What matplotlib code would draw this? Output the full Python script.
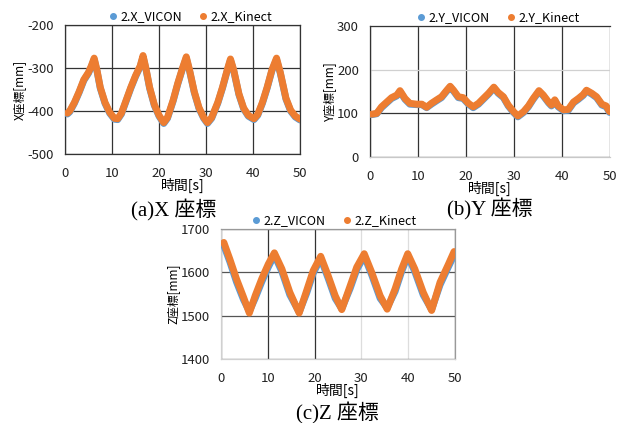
import matplotlib
matplotlib.use("Agg")
import matplotlib.pyplot as plt
from matplotlib.lines import Line2D

plt.rcParams['font.family'] = ['Noto Sans CJK JP', 'DejaVu Sans']
plt.rcParams['axes.unicode_minus'] = False

# X coordinate (a)
x_t = [0.5, 1, 2, 3, 4, 5, 5.6, 6.2, 6.8, 7.5, 8.5, 9.5, 10.5, 11.2, 12, 13, 14, 15, 16, 16.6,
       17.2, 18, 19, 20, 21, 21.8, 23, 24, 25, 25.8, 26.5, 27.5, 28.5, 29.5, 30.3, 31.2, 32.5,
       33.5, 34.5, 35.2, 35.9, 37, 38, 39, 40.2, 41, 42, 43, 44, 45, 45.8, 47, 48, 49, 50]
x_kinect = [-405, -400, -380, -355, -327, -310, -295, -277, -305, -345, -380, -403, -417, -418,
            -405, -375, -345, -318, -295, -271, -300, -345, -385, -410, -427, -415, -375, -335,
            -300, -274, -305, -355, -392, -415, -427, -415, -380, -345, -305, -279, -305, -360,
            -393, -410, -418, -408, -380, -345, -305, -277, -310, -370, -398, -412, -419]
x_vicon = [-407, -402, -382, -357, -329, -312, -297, -280, -307, -347, -382, -405, -419, -420,
           -407, -377, -347, -320, -297, -274, -302, -347, -387, -412, -429, -417, -377, -337,
           -302, -277, -307, -357, -394, -417, -429, -417, -382, -347, -307, -282, -307, -362,
           -395, -412, -420, -410, -382, -347, -307, -280, -312, -372, -400, -414, -421]

# Y coordinate (b)
y_t = [0.35, 1.4, 2.4, 3.5, 4.5, 5.6, 6.25, 7.3, 8.3, 9.7, 10.8, 11.8, 12.8, 13.9, 14.9, 16,
       16.7, 17.4, 18.4, 19.4, 20.5, 21.5, 22.6, 23.6, 24.7, 25.8, 26.7, 27.8, 28.8, 29.9, 30.8,
       32, 33, 34, 35.2, 36.1, 37.2, 37.8, 38.5, 39.2, 40.3, 41.3, 42.4, 43.4, 44.4, 45.1, 46.2,
       47.2, 48.3, 49.2, 49.9]
y_kinect = [98, 100, 115, 126, 136, 142, 152, 134, 123, 121, 121, 114, 123, 131, 138, 153, 162,
            153, 138, 136, 123, 115, 123, 134, 146, 160, 148, 138, 119, 104, 94, 104, 117, 134,
            152, 142, 126, 119, 131, 117, 108, 109, 126, 134, 143, 153, 146, 138, 121, 117, 104]
y_vicon = [97, 99, 113, 124, 134, 140, 150, 132, 121, 120, 120, 113, 121, 129, 136, 151, 160,
           151, 136, 134, 121, 113, 121, 132, 144, 158, 146, 136, 117, 102, 92, 102, 115, 132,
           150, 140, 124, 117, 129, 115, 106, 107, 124, 132, 141, 151, 144, 136, 119, 115, 102]

# Z coordinate (c)
z_t = [0.6, 1.9, 3.3, 4.8, 6.05, 7.3, 8.7, 10.1, 11.4, 13, 14.7, 16.7, 18.3, 19.7, 21.3, 22.9,
       24.4, 25.8, 27.6, 29, 30.6, 32.2, 34, 35.5, 37.2, 38.6, 39.9, 41.4, 43.2, 45, 46.8, 48.6,
       49.8]
z_kinect = [1669, 1630, 1585, 1543, 1506, 1546, 1585, 1619, 1645, 1608, 1554, 1506, 1558, 1604,
            1637, 1592, 1546, 1514, 1569, 1612, 1643, 1600, 1546, 1515, 1562, 1608, 1643, 1608,
            1554, 1512, 1577, 1619, 1648]
z_vicon = [1662, 1624, 1578, 1537, 1510, 1540, 1578, 1612, 1640, 1602, 1548, 1508, 1552, 1598,
           1632, 1586, 1540, 1516, 1563, 1606, 1638, 1594, 1540, 1518, 1556, 1602, 1638, 1602,
           1548, 1514, 1571, 1613, 1640]

BLUE = '#5B9BD5'
ORANGE = '#ED7D31'

fig = plt.figure(figsize=(6.27, 4.23), dpi=100)
ax_a = fig.add_axes([0.1037, 0.6359, 0.3748, 0.3050])
ax_b = fig.add_axes([0.5901, 0.6288, 0.3828, 0.3097])
ax_c = fig.add_axes([0.3525, 0.1513, 0.3732, 0.3073])

panels = [
    (ax_a, x_t, x_vicon, x_kinect, 'X', (-500, -200), [-500, -400, -300, -200], 0.53),
    (ax_b, y_t, y_vicon, y_kinect, 'Y', (0, 300), [0, 100, 200, 300], 0.53),
    (ax_c, z_t, z_vicon, z_kinect, 'Z', (1400, 1700), [1400, 1500, 1600, 1700], 0.48),
]

for ax, t, vic, kin, name, ylim, yticks, lx in panels:
    ax.plot(t, vic, color=BLUE, lw=5.0, solid_joinstyle='round', solid_capstyle='round', zorder=3)
    ax.plot(t, kin, color=ORANGE, lw=5.0, solid_joinstyle='round', solid_capstyle='round', zorder=4)
    ax.set_xlim(0, 50)
    ax.set_ylim(*ylim)
    ax.set_xticks([0, 10, 20, 30, 40, 50])
    ax.set_yticks(yticks)
    ax.tick_params(length=0, labelsize=9.5, colors='#222222')
    ax.tick_params(axis='y', pad=8)
    ax.tick_params(axis='x', pad=9)
    ax.grid(True, color='#333333', lw=0.9)
    ax.set_axisbelow(True)
    for s in ax.spines.values():
        s.set_color('#333333')
        s.set_linewidth(0.9)
    ax.set_xlabel('時間[s]', fontsize=10, labelpad=-1)
    ax.set_ylabel(name + '座標[mm]', fontsize=8.5, labelpad=1)
    handles = [Line2D([], [], color=BLUE, marker='o', ls='none', ms=4),
               Line2D([], [], color=ORANGE, marker='o', ls='none', ms=4)]
    ax.legend(handles, ['2.' + name + '_VICON', '2.' + name + '_Kinect'], loc='lower center',
              bbox_to_anchor=(lx, 1.015), ncol=2, frameon=False, fontsize=9,
              handletextpad=0.1, columnspacing=1.2, borderaxespad=0, handlelength=1.0,
              borderpad=0)

# per-panel grid tweaks seen in the reference
ax_b.get_ygridlines()[2].set_color('#d0d0d0')
ax_b.get_ygridlines()[3].set_color('#d0d0d0')
ax_b.spines['bottom'].set_color('#c8c8c8')
ax_b.spines['right'].set_visible(False)
for i in (3, 4):
    ax_c.get_xgridlines()[i].set_color('#dddddd')
for g in ax_c.get_ygridlines():
    g.set_color('#555555')
ax_c.spines['left'].set_color('#d0d0d0')
ax_c.spines['bottom'].set_color('#d0d0d0')
ax_c.spines['top'].set_color('#999999')
ax_c.spines['right'].set_color('#999999')

cap_font = ['Liberation Serif', 'Noto Sans CJK JP']
fig.text(174 / 627, 1 - 210 / 423, '(a)X 座標', family=cap_font, fontsize=15, ha='center', va='center')
fig.text(490 / 627, 1 - 209 / 423, '(b)Y 座標', family=cap_font, fontsize=15, ha='center', va='center')
fig.text(337 / 627, 1 - 413 / 423, '(c)Z 座標', family=cap_font, fontsize=15, ha='center', va='center')

fig.savefig('out.png', dpi=100)
